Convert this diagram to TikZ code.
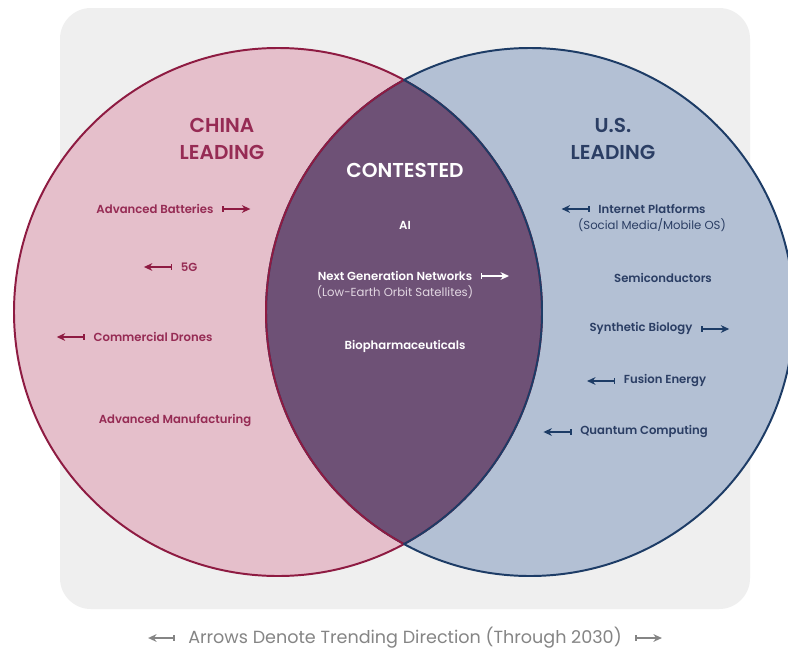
\documentclass[tikz,border=0pt]{standalone}
\usepackage{fontspec}
\setmainfont{Poppins}[BoldFont={* SemiBold}]
\usetikzlibrary{arrows.meta,positioning}
\definecolor{cnred}{HTML}{8E1B42}
\definecolor{cnfill}{HTML}{E5BFCB}
\definecolor{cntext}{HTML}{962B54}
\definecolor{usblue}{HTML}{1D3C66}
\definecolor{usfill}{HTML}{B3C0D4}
\definecolor{ustext}{HTML}{2B3E64}
\definecolor{ctfill}{HTML}{6E5176}
\definecolor{ctsub}{HTML}{E2D7E2}
\definecolor{panel}{HTML}{EFEFEF}
\definecolor{captxt}{HTML}{858585}

\begin{document}
\begin{tikzpicture}[
    x=0.025cm, y=-0.025cm,
    heading/.style={font=\bfseries\fontsize{14.3}{19}\selectfont, align=center, inner sep=0pt},
    item/.style={font=\bfseries\fontsize{8.3}{10}\selectfont, inner sep=1pt},
    subitem/.style={font=\fontsize{8.3}{10}\selectfont, inner sep=1pt},
    trend/.style={{Bar[width=4pt,line width=1pt]}-{Stealth[length=6pt,width=5.5pt]}, line width=1pt},
    china/.style={text=cntext},
    us/.style={text=ustext},
    contested/.style={text=white}
  ]
    \clip (0,0) rectangle (788,651);
    \fill[white] (0,0) rectangle (788,651);
    \fill[panel, rounded corners=22pt] (60,8) rectangle (750,609);

    % the two circles and their overlap
    \fill[cnfill] (278,312) circle[radius=264];
    \fill[usfill] (530,312) circle[radius=264];
    \begin{scope}
      \clip (278,312) circle[radius=264];
      \fill[ctfill] (530,312) circle[radius=264];
    \end{scope}
    \draw[cnred, line width=1.4pt] (278,312) circle[radius=264];
    \draw[usblue, line width=1.4pt] (530,312) circle[radius=264];
    \begin{scope}
      \clip (278,312) circle[radius=264];
      \draw[cnred, line width=1.4pt] (530,312) circle[radius=264];
    \end{scope}
    \begin{scope}
      \clip (530,312) circle[radius=264];
      \draw[usblue, line width=1.4pt] (278,312) circle[radius=264];
    \end{scope}

    % China leading
    \node[heading, china] (cnhead) at (222,139) {CHINA\\LEADING};
    \node[item, china] (batt) at (155,209) {Advanced Batteries};
    \node[item, china] (g5) at (189,267) {5G};
    \node[item, china] (drones) at (153,337) {Commercial Drones};
    \node[item, china] (manuf) at (175,421) {Advanced Manufacturing};

    \coordinate[right=5pt of batt] (batt-a);
    \coordinate[right=20pt of batt-a] (batt-b);
    \coordinate[left=5pt of g5] (g5-a);
    \coordinate[left=20pt of g5-a] (g5-b);
    \coordinate[left=5pt of drones] (drones-a);
    \coordinate[left=20pt of drones-a] (drones-b);
    \draw[trend, cnred] (batt-a) -- (batt-b);
    \draw[trend, cnred] (g5-a) -- (g5-b);
    \draw[trend, cnred] (drones-a) -- (drones-b);

    % contested
    \node[heading, contested] (cthead) at (405,170) {CONTESTED};
    \node[item, contested] (ai) at (405,225) {AI};
    \node[item, contested] (nextgen) at (395,276) {Next Generation Networks};
    \node[subitem, text=ctsub, below=1pt of nextgen] (leo) {(Low-Earth Orbit Satellites)};
    \node[item, contested] (bio) at (405,346) {Biopharmaceuticals};

    \coordinate[right=5pt of nextgen] (nextgen-a);
    \coordinate[right=20pt of nextgen-a] (nextgen-b);
    \draw[trend, white] (nextgen-a) -- (nextgen-b);

    % U.S. leading
    \node[heading, us] (ushead) at (613,139) {U.S.\\LEADING};
    \node[item, us] (inet) at (652,209) {Internet Platforms};
    \node[subitem, us, below=1pt of inet] (social) {(Social Media/Mobile OS)};
    \node[item, us] (semi) at (663,278) {Semiconductors};
    \node[item, us] (synbio) at (641,329) {Synthetic Biology};
    \node[item, us] (fusion) at (665,381) {Fusion Energy};
    \node[item, us] (quantum) at (644,432) {Quantum Computing};

    \coordinate[left=5pt of inet] (inet-a);
    \coordinate[left=20pt of inet-a] (inet-b);
    \coordinate[right=5pt of synbio] (synbio-a);
    \coordinate[right=20pt of synbio-a] (synbio-b);
    \coordinate[left=5pt of fusion] (fusion-a);
    \coordinate[left=20pt of fusion-a] (fusion-b);
    \coordinate[left=5pt of quantum] (quantum-a);
    \coordinate[left=20pt of quantum-a] (quantum-b);
    \draw[trend, usblue] (inet-a) -- (inet-b);
    \draw[trend, usblue] (synbio-a) -- (synbio-b);
    \draw[trend, usblue] (fusion-a) -- (fusion-b);
    \draw[trend, usblue] (quantum-a) -- (quantum-b);

    % legend line
    \node[font=\fontsize{12.5}{14}\selectfont, text=captxt] (legend) at (405,638) {Arrows Denote Trending Direction (Through 2030)};
    \coordinate[left=6pt of legend] (legend-a);
    \coordinate[left=19pt of legend-a] (legend-b);
    \coordinate[right=6pt of legend] (legend-c);
    \coordinate[right=19pt of legend-c] (legend-d);
    \draw[trend, captxt, line width=0.8pt] (legend-a) -- (legend-b);
    \draw[trend, captxt, line width=0.8pt] (legend-c) -- (legend-d);
  \end{tikzpicture}
\end{document}
